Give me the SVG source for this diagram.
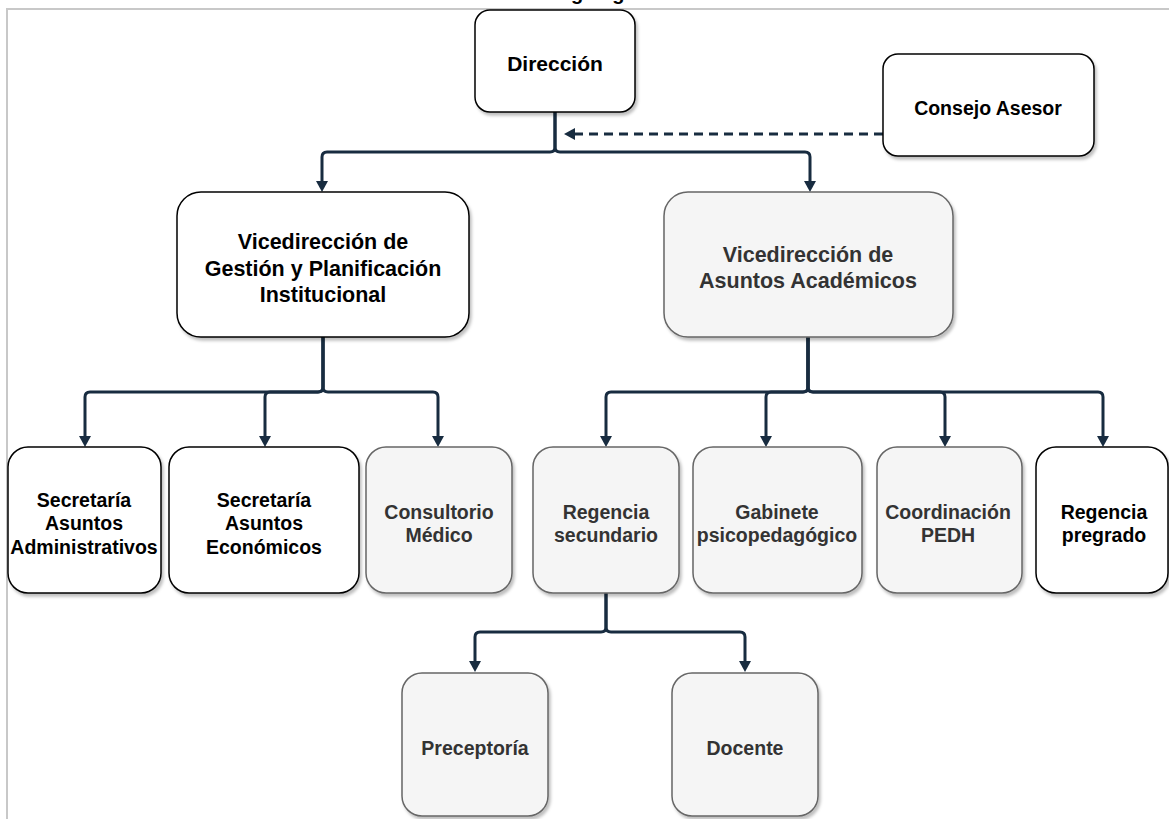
<svg xmlns="http://www.w3.org/2000/svg" width="1169" height="819" viewBox="0 0 1169 819">
<style>
.w{fill:#ffffff;stroke:#000000;stroke-width:1.5;filter:url(#sh)}
.g{fill:#f5f5f5;stroke:#666666;stroke-width:1.5;filter:url(#sh)}
.t{font-family:"Liberation Sans",Arial,Helvetica,sans-serif;font-weight:bold;text-anchor:middle;fill:#000000}
.tg{fill:#333333}
.c{fill:none;stroke:#182c40;stroke-width:3;marker-end:url(#ar)}
.d{fill:none;stroke:#182c40;stroke-width:3;stroke-dasharray:9 6;marker-end:url(#ar)}
.frame{stroke:#c8c8c8;stroke-width:2;fill:none}
</style>
<defs>
<filter id="sh" x="-10%" y="-10%" width="130%" height="130%">
<feDropShadow dx="2" dy="3" stdDeviation="1.5" flood-color="#000000" flood-opacity="0.25"/>
</filter>
<marker id="ar" markerUnits="userSpaceOnUse" markerWidth="12" markerHeight="12" refX="0" refY="6" orient="auto">
<path d="M0,0 L11,6 L0,12 z" fill="#182c40"/>
</marker>
</defs>
<rect width="1169" height="819" fill="#ffffff"/>
<text class="t" x="610" y="-0.5" font-size="20">Organigrama</text>
<path class="frame" d="M7,819 V9 H1169"/>

<g id="connectors">
<path class="c" d="M555,112 V147 Q555,152 550,152 H327 Q322,152 322,157 V181"/>
<path class="c" d="M555,112 V147 Q555,152 560,152 H805 Q810,152 810,157 V181"/>
<path class="d" d="M883,134 H575"/>
<path class="c" d="M323,337 V387 Q323,392 318,392 H90 Q85,392 85,397 V436"/>
<path class="c" d="M323,337 V387 Q323,392 318,392 H270 Q265,392 265,397 V436"/>
<path class="c" d="M323,337 V387 Q323,392 328,392 H433 Q438,392 438,397 V436"/>
<path class="c" d="M808,337 V387 Q808,392 803,392 H611 Q606,392 606,397 V436"/>
<path class="c" d="M808,337 V387 Q808,392 803,392 H771 Q766,392 766,397 V436"/>
<path class="c" d="M808,337 V387 Q808,392 813,392 H940 Q945,392 945,397 V436"/>
<path class="c" d="M808,337 V387 Q808,392 813,392 H1098 Q1103,392 1103,397 V436"/>
<path class="c" d="M606,593 V627 Q606,632 601,632 H480 Q475,632 475,637 V661"/>
<path class="c" d="M606,593 V627 Q606,632 611,632 H740 Q745,632 745,637 V661"/>
</g>

<g id="direccion">
<rect class="w" x="475" y="10" width="160" height="102" rx="15"/>
<text class="t" x="555" y="71" font-size="21">Dirección</text>
</g>
<g id="consejo">
<rect class="w" x="883" y="54" width="211" height="102" rx="15"/>
<text class="t" x="988" y="115" font-size="19.5">Consejo Asesor</text>
</g>
<g id="vice-gestion">
<rect class="w" x="177" y="192" width="292" height="145" rx="24"/>
<text class="t" x="323" y="249" font-size="21.5">Vicedirección de</text>
<text class="t" x="323" y="275.5" font-size="21.5">Gestión y Planificación</text>
<text class="t" x="323" y="301.5" font-size="21.5">Institucional</text>
</g>
<g id="vice-academicos">
<rect class="g" x="664" y="192" width="289" height="145" rx="24"/>
<text class="t tg" x="808" y="261.5" font-size="21.5">Vicedirección de</text>
<text class="t tg" x="808" y="288" font-size="21.5">Asuntos Académicos</text>
</g>
<g id="sec-admin">
<rect class="w" x="8" y="447" width="153" height="146" rx="20"/>
<text class="t" x="84" y="507" font-size="19.5">Secretaría</text>
<text class="t" x="84" y="530" font-size="19.5">Asuntos</text>
<text class="t" x="84" y="553.5" font-size="19.5">Administrativos</text>
</g>
<g id="sec-econ">
<rect class="w" x="169" y="447" width="190" height="146" rx="20"/>
<text class="t" x="264" y="507" font-size="19.5">Secretaría</text>
<text class="t" x="264" y="530" font-size="19.5">Asuntos</text>
<text class="t" x="264" y="553.5" font-size="19.5">Económicos</text>
</g>
<g id="consultorio">
<rect class="g" x="366" y="447" width="146" height="146" rx="20"/>
<text class="t tg" x="439" y="518.5" font-size="19.5">Consultorio</text>
<text class="t tg" x="439" y="542" font-size="19.5">Médico</text>
</g>
<g id="regencia-secundario">
<rect class="g" x="533" y="447" width="146" height="146" rx="20"/>
<text class="t tg" x="606" y="518.5" font-size="19.5">Regencia</text>
<text class="t tg" x="606" y="542" font-size="19.5">secundario</text>
</g>
<g id="gabinete">
<rect class="g" x="693" y="447" width="169" height="146" rx="20"/>
<text class="t tg" x="777" y="518.5" font-size="19.5">Gabinete</text>
<text class="t tg" x="777" y="542" font-size="19.5">psicopedagógico</text>
</g>
<g id="coordinacion">
<rect class="g" x="877" y="447" width="145" height="146" rx="20"/>
<text class="t tg" x="948" y="518.5" font-size="19.5">Coordinación</text>
<text class="t tg" x="948" y="542" font-size="19.5">PEDH</text>
</g>
<g id="regencia-pregrado">
<rect class="w" x="1036" y="447" width="132" height="146" rx="20"/>
<text class="t" x="1104" y="518.5" font-size="19.5">Regencia</text>
<text class="t" x="1104" y="542" font-size="19.5">pregrado</text>
</g>
<g id="preceptoria">
<rect class="g" x="402" y="673" width="146" height="143" rx="20"/>
<text class="t tg" x="475" y="755" font-size="19.5">Preceptoría</text>
</g>
<g id="docente">
<rect class="g" x="672" y="673" width="146" height="143" rx="20"/>
<text class="t tg" x="745" y="755" font-size="19.5">Docente</text>
</g>
</svg>
